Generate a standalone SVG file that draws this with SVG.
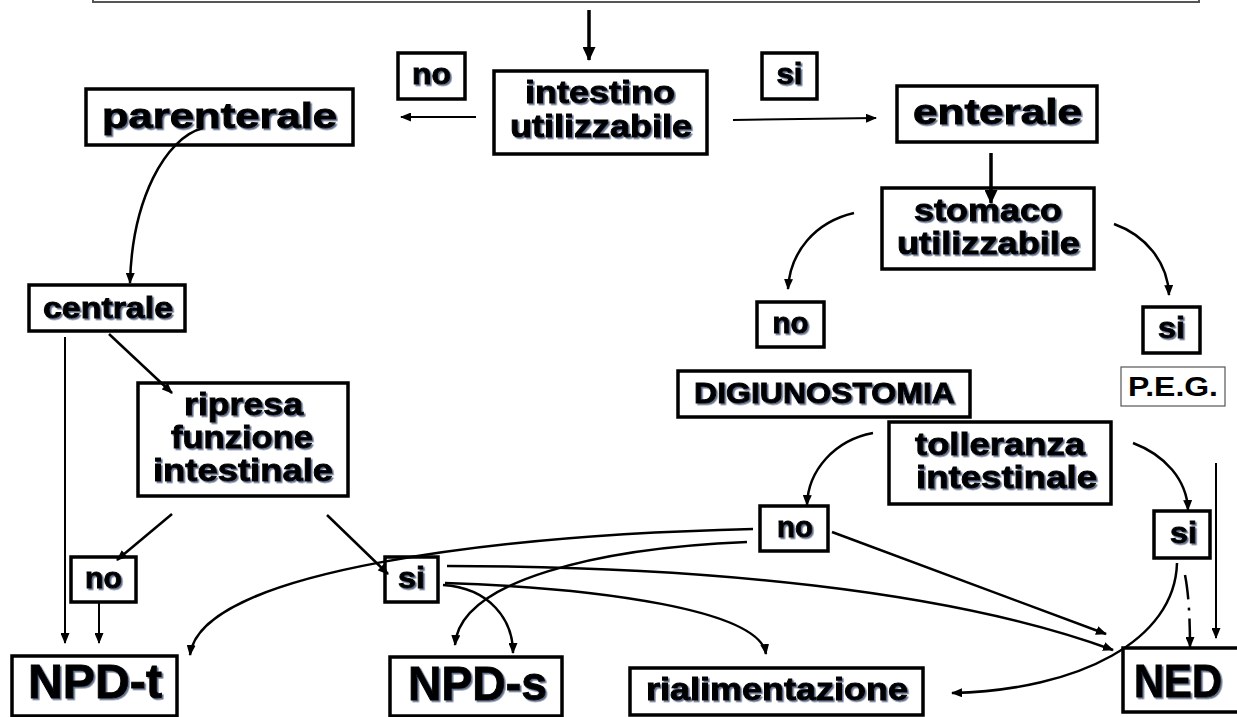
<svg xmlns="http://www.w3.org/2000/svg" width="1237" height="717" viewBox="0 0 1237 717">
<defs>
<style>
.bx{fill:#fff;stroke:#000;stroke-width:3.5}
.thin{fill:#fff;stroke:#555;stroke-width:1.2}
.t{font-family:"Liberation Sans",Arial,sans-serif;font-weight:bold;fill:#000;stroke:#000;stroke-width:0.9;text-anchor:middle;filter:url(#sh)}
.tr{font-family:"Liberation Sans",Arial,sans-serif;font-weight:bold;fill:#000;text-anchor:middle}
.c{fill:none;stroke:#000;stroke-width:2.5;marker-end:url(#ah)}
.l{fill:none;stroke:#000;stroke-width:2;marker-end:url(#ah)}
.k{fill:none;stroke:#000;stroke-width:3.5;marker-end:url(#ahb)}
</style>
<filter id="sh" x="-5%" y="-15%" width="112%" height="135%">
<feDropShadow dx="1.6" dy="1.6" stdDeviation="0.4" flood-color="#3a4a6a" flood-opacity="0.8"/>
</filter>
<marker id="ah" markerWidth="11" markerHeight="9" refX="10" refY="4.5" orient="auto" markerUnits="userSpaceOnUse">
<path d="M0,0 L11,4.5 L0,9 Z" fill="#000"/>
</marker>
<marker id="ahb" markerWidth="14" markerHeight="13" refX="13" refY="6.5" orient="auto" markerUnits="userSpaceOnUse">
<path d="M0,0 L14,6.5 L0,13 Z" fill="#000"/>
</marker>
</defs>
<rect x="0" y="0" width="1237" height="717" fill="#fff"/>

<g id="top"><rect x="93" y="-30" width="1106" height="32" fill="none" stroke="#555" stroke-width="2"/></g>

<g id="n_intestino"><rect class="bx" x="494" y="71" width="213" height="83"/>
<text class="t" x="600" y="103" font-size="32" textLength="150" lengthAdjust="spacingAndGlyphs">intestino</text>
<text class="t" x="601" y="137" font-size="32" textLength="182" lengthAdjust="spacingAndGlyphs">utilizzabile</text></g>

<g id="n_no1"><rect class="bx" x="398" y="53" width="67" height="46"/>
<text class="t" x="431.5" y="84" font-size="29" textLength="39" lengthAdjust="spacingAndGlyphs">no</text></g>

<g id="n_si1"><rect class="bx" x="762" y="53" width="55" height="46"/>
<text class="t" x="789.5" y="84" font-size="29" textLength="26" lengthAdjust="spacingAndGlyphs">si</text></g>

<g id="n_parenterale"><rect class="bx" x="86" y="89" width="267" height="56"/>
<text class="t" x="219.5" y="128" font-size="35" textLength="235" lengthAdjust="spacingAndGlyphs">parenterale</text></g>

<g id="n_enterale"><rect class="bx" x="897" y="86" width="200" height="56"/>
<text class="t" x="997.5" y="124" font-size="35" textLength="169" lengthAdjust="spacingAndGlyphs">enterale</text></g>

<g id="n_stomaco"><rect class="bx" x="882" y="188" width="212" height="81"/>
<text class="t" x="988" y="221" font-size="31" textLength="148" lengthAdjust="spacingAndGlyphs">stomaco</text>
<text class="t" x="988.5" y="254" font-size="31" textLength="183" lengthAdjust="spacingAndGlyphs">utilizzabile</text></g>

<g id="n_no2"><rect class="bx" x="757" y="302" width="67" height="45"/>
<text class="t" x="790.5" y="333" font-size="29" textLength="36" lengthAdjust="spacingAndGlyphs">no</text></g>

<g id="n_si2"><rect class="bx" x="1143" y="307" width="57" height="46"/>
<text class="t" x="1171.5" y="338" font-size="29" textLength="27" lengthAdjust="spacingAndGlyphs">si</text></g>

<g id="n_peg"><rect class="thin" x="1121" y="367" width="104" height="39"/>
<text class="tr" x="1173" y="396" font-size="27" textLength="90" lengthAdjust="spacingAndGlyphs">P.E.G.</text></g>

<g id="n_digiunostomia"><rect class="bx" x="678" y="371" width="292" height="46"/>
<text class="t" x="824.5" y="403" font-size="29" textLength="261" lengthAdjust="spacingAndGlyphs">DIGIUNOSTOMIA</text></g>

<g id="n_tolleranza"><rect class="bx" x="889" y="422" width="222" height="82"/>
<text class="t" x="1000" y="455" font-size="32" textLength="170" lengthAdjust="spacingAndGlyphs">tolleranza</text>
<text class="t" x="1006.5" y="488" font-size="32" textLength="181" lengthAdjust="spacingAndGlyphs">intestinale</text></g>

<g id="n_centrale"><rect class="bx" x="29" y="285" width="156" height="46"/>
<text class="t" x="108" y="318" font-size="30" textLength="130" lengthAdjust="spacingAndGlyphs">centrale</text></g>

<g id="n_ripresa"><rect class="bx" x="138" y="383" width="210" height="113"/>
<text class="t" x="243.5" y="415" font-size="32" textLength="119" lengthAdjust="spacingAndGlyphs">ripresa</text>
<text class="t" x="242" y="448" font-size="32" textLength="142" lengthAdjust="spacingAndGlyphs">funzione</text>
<text class="t" x="243" y="481" font-size="32" textLength="180" lengthAdjust="spacingAndGlyphs">intestinale</text></g>

<g id="n_no3"><rect class="bx" x="71" y="557" width="65" height="45"/>
<text class="t" x="103.5" y="588" font-size="29" textLength="37" lengthAdjust="spacingAndGlyphs">no</text></g>

<g id="n_si3"><rect class="bx" x="385" y="557" width="53" height="45"/>
<text class="t" x="411.5" y="588" font-size="29" textLength="27" lengthAdjust="spacingAndGlyphs">si</text></g>

<g id="n_no4"><rect class="bx" x="760" y="506" width="68" height="45"/>
<text class="t" x="795" y="537" font-size="29" textLength="36" lengthAdjust="spacingAndGlyphs">no</text></g>

<g id="n_si4"><rect class="bx" x="1154" y="511" width="56" height="47"/>
<text class="t" x="1183.5" y="543" font-size="29" textLength="27" lengthAdjust="spacingAndGlyphs">si</text></g>

<g id="n_npdt"><rect class="bx" x="12" y="656" width="165" height="60"/>
<text class="t" x="95" y="698" font-size="49" textLength="134" lengthAdjust="spacingAndGlyphs">NPD-t</text></g>

<g id="n_npds"><rect class="bx" x="390" y="657" width="172" height="59"/>
<text class="t" x="477.5" y="700" font-size="49" textLength="139" lengthAdjust="spacingAndGlyphs">NPD-s</text></g>

<g id="n_rialimentazione"><rect class="bx" x="630" y="668" width="293" height="47"/>
<text class="t" x="777" y="700" font-size="31" textLength="262" lengthAdjust="spacingAndGlyphs">rialimentazione</text></g>

<g id="n_ned"><rect class="bx" x="1123" y="648" width="130" height="64"/>
<text class="t" x="1178" y="697" font-size="47" textLength="88" lengthAdjust="spacingAndGlyphs">NED</text></g>

<g id="connectors">
<path class="k" d="M589,10 L589,60"/>
<path class="l" d="M476,117 L401,117"/>
<path class="l" d="M733,120 L876,118"/>
<path class="k" d="M991,153 L991,203"/>
<path class="c" d="M203,128 C165,138 132,200 130,283"/>
<path class="c" d="M854,213 C815,222 790,252 788,289"/>
<path class="c" d="M1114,224 C1145,235 1168,262 1169,295"/>
<path class="c" d="M873,433 C835,440 808,470 807,505"/>
<path class="c" d="M1133,443 C1165,455 1187,480 1188,510"/>
<path class="l" d="M1216,463 L1216,638"/>
<path class="l" d="M65,337 L65,643"/>
<path class="c" d="M109,334 L172,393"/>
<path class="c" d="M172,514 L117,560"/>
<path class="l" d="M99,602 L99,643"/>
<path class="c" d="M327,515 L388,574"/>
<path class="c" d="M753,529 C500,535 200,570 190,655"/>
<path class="c" d="M747,542 C600,548 460,580 455,645"/>
<path class="c" d="M443,585 C490,588 513,620 513,653"/>
<path class="c" d="M447,566 C700,566 950,590 1113,650"/>
<path class="c" d="M445,583 C600,588 760,610 766,654"/>
<path class="c" d="M832,532 L1106,634"/>
<path class="c" d="M1177,563 C1175,640 1080,690 952,693"/>
<path class="c" d="M1185,575 Q1190,600 1190,647" stroke-dasharray="25,8,3,8,60"/>
</g>
</svg>
